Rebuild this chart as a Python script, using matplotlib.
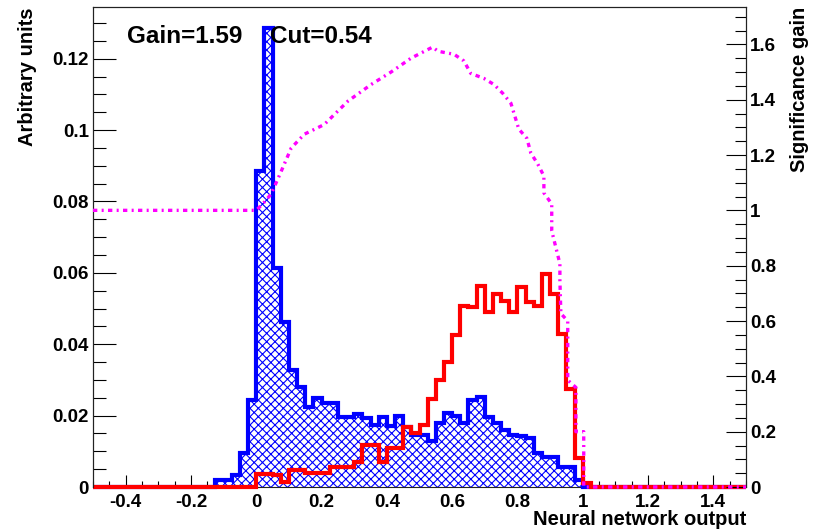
import matplotlib
matplotlib.use("Agg")
import matplotlib.pyplot as plt
import numpy as np
from matplotlib.ticker import MultipleLocator, FuncFormatter

plt.rcParams["font.family"] = ["Liberation Sans", "DejaVu Sans"]
plt.rcParams["font.weight"] = "bold"
plt.rcParams["axes.labelweight"] = "bold"
plt.rcParams["hatch.linewidth"] = 0.8

# binning of the network output histograms
bin_width = 0.025
x_min, x_max = -0.5, 1.5

# background (blue), first bin starts at -0.125
bkg_start = -0.125
bkg_vals = [
    0.0020, 0.0020, 0.0034, 0.0095, 0.0243,
    0.0886, 0.1285, 0.0615, 0.0462, 0.0327,
    0.0280, 0.0224, 0.0248, 0.0234, 0.0234,
    0.0196, 0.0196, 0.0204, 0.0194, 0.0173,
    0.0196, 0.0172, 0.0198, 0.0168, 0.0145,
    0.0145, 0.0130, 0.0180, 0.0206, 0.0200,
    0.0180, 0.0245, 0.0252, 0.0196, 0.0180,
    0.0159, 0.0145, 0.0142, 0.0137, 0.0095,
    0.0085, 0.0085, 0.0056, 0.0056, 0.0020,
]

# signal (red), first bin starts at 0
sig_start = 0.0
sig_vals = [
    0.0037, 0.0037, 0.0035, 0.0015, 0.0047,
    0.0047, 0.0040, 0.0040, 0.0040, 0.0057,
    0.0057, 0.0057, 0.0071, 0.0117, 0.0117,
    0.0071, 0.0110, 0.0110, 0.0168, 0.0150,
    0.0173, 0.0246, 0.0299, 0.0350, 0.0425,
    0.0508, 0.0504, 0.0564, 0.0490, 0.0541,
    0.0522, 0.0490, 0.0560, 0.0518, 0.0508,
    0.0597, 0.0541, 0.0429, 0.0276, 0.0080,
    0.0010,
]

# significance gain vs cut value (magenta)
gain_cut = [
    -0.5, 0.0, 0.025, 0.046, 0.076, 0.107, 0.147, 0.208, 0.281, 0.352,
    0.413, 0.474, 0.54, 0.557, 0.606, 0.636, 0.657, 0.697, 0.728, 0.755,
    0.780, 0.804, 0.829, 0.841, 0.862, 0.881, 0.881, 0.905, 0.905, 0.930,
    0.930, 0.933, 0.954, 0.954, 0.979, 0.979, 1.003, 1.003, 1.5,
]
gain_val = [
    1.0, 1.0, 1.03, 1.06, 1.14, 1.225, 1.275, 1.31, 1.395, 1.455,
    1.50, 1.55, 1.59, 1.575, 1.564, 1.54, 1.495, 1.477, 1.455, 1.423,
    1.387, 1.294, 1.26, 1.207, 1.168, 1.124, 1.063, 1.023, 0.926, 0.807,
    0.746, 0.627, 0.60, 0.386, 0.36, 0.2, 0.2, 0.0, 0.0,
]

best_gain = 1.59
best_cut = 0.54

edges = np.arange(x_min, x_max + bin_width / 2, bin_width)
n_bins = len(edges) - 1


def full_hist(start, vals):
    h = np.zeros(n_bins)
    i0 = int(round((start - x_min) / bin_width))
    h[i0:i0 + len(vals)] = vals
    return h


bkg = full_hist(bkg_start, bkg_vals)
sig = full_hist(sig_start, sig_vals)

fig = plt.figure(figsize=(8.23, 5.32), dpi=100)
ax = fig.add_axes([93 / 823, 45 / 532, 653 / 823, 480 / 532])

ax.stairs(bkg, edges, fill=True, facecolor="white", edgecolor="blue",
          hatch="xxxx", linewidth=0, zorder=2)
ax.stairs(bkg, edges, color="blue", linewidth=3, zorder=3, clip_on=False)
ax.stairs(sig, edges, color="red", linewidth=3, zorder=4, clip_on=False)

ax.set_xlim(x_min, x_max)
ax.set_ylim(0, 0.1345)

ax2 = ax.twinx()
ax2.plot(gain_cut, gain_val, color="magenta", linewidth=2.4,
         dashes=(1.3, 1.3, 0.6, 1.3), zorder=5, clip_on=False)
ax2.set_ylim(0, 1.735)
ax2.spines["bottom"].set_visible(False)

fmt = FuncFormatter(lambda v, p: f"{v:g}")

ax.xaxis.set_major_locator(MultipleLocator(0.2))
ax.xaxis.set_minor_locator(MultipleLocator(0.05))
ax.yaxis.set_major_locator(MultipleLocator(0.02))
ax.yaxis.set_minor_locator(MultipleLocator(0.005))
ax.xaxis.set_major_formatter(fmt)
ax.yaxis.set_major_formatter(fmt)
ax2.yaxis.set_major_locator(MultipleLocator(0.2))
ax2.yaxis.set_minor_locator(MultipleLocator(0.05))
ax2.yaxis.set_major_formatter(fmt)

ax.tick_params(axis="both", which="both", direction="in", top=False, right=False,
               width=0.8, labelsize=13.5)
ax.tick_params(axis="x", which="major", length=8.6, pad=5)
ax.tick_params(axis="x", which="minor", length=4.3)
ax.tick_params(axis="y", which="major", length=16.6, pad=3)
ax.tick_params(axis="y", which="minor", length=9.1)
ax2.tick_params(axis="y", which="both", direction="in", width=0.8, labelsize=13.5, pad=3)
ax2.tick_params(axis="y", which="major", length=14.4)
ax2.tick_params(axis="y", which="minor", length=7.9)

for a in (ax, ax2):
    for s in a.spines.values():
        s.set_linewidth(0.8)
        s.set_color("#222222")

ax.set_xlabel("Neural network output", fontsize=14.5, loc="right")
ax.xaxis.set_label_coords(1.0, -0.048)
ax.set_ylabel("Arbitrary units", fontsize=14.5, loc="top")
ax.yaxis.set_label_coords(-0.086, 1.0)
ax2.set_ylabel("Significance gain", fontsize=14.5, loc="top")
ax2.yaxis.set_label_coords(1.067, 1.0)

ax2.text(0.052, 0.925, f"Gain={best_gain:.2f}", transform=ax.transAxes,
         fontsize=17.5, ha="left", va="baseline", zorder=10)
ax2.text(0.271, 0.925, f"Cut={best_cut:.2f}", transform=ax.transAxes,
         fontsize=17.5, ha="left", va="baseline", zorder=10)

fig.savefig("out.png", dpi=100)
